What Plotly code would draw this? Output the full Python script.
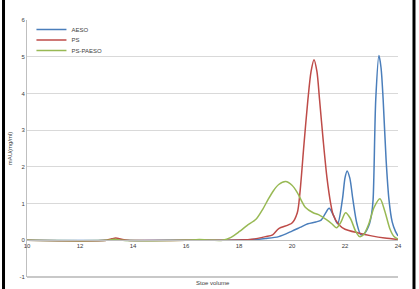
import plotly.graph_objects as go

# AESO (blue)
aeso_x = [10, 13.0, 13.3, 13.6, 16, 17, 18, 18.5, 19, 19.5, 20, 20.3, 20.6, 20.9, 21.1,
          21.25, 21.4, 21.55, 21.72, 21.9, 22.0, 22.08, 22.18, 22.3, 22.45, 22.6, 22.75,
          22.9, 23.0, 23.06, 23.16, 23.28, 23.36, 23.44, 23.55, 23.66, 23.78, 23.9, 24]
aeso_y = [0, 0, 0.02, 0, 0, 0, 0.01, 0.02, 0.05, 0.1, 0.25, 0.35, 0.45, 0.5, 0.55,
          0.72, 0.87, 0.7, 0.45, 1.1, 1.7, 1.89, 1.7, 1.1, 0.45, 0.15, 0.2,
          0.4, 0.7, 1.1, 3.83, 5.03, 4.7, 3.83, 2.2, 1.1, 0.5, 0.25, 0.12]

# PS (red)
ps_x = [10, 13.0, 13.2, 13.35, 13.5, 13.8, 16, 18, 18.5, 19.0, 19.27, 19.5, 20.0, 20.2,
        20.3, 20.45, 20.6, 20.72, 20.83, 20.94, 21.04, 21.18, 21.32, 21.46, 21.55, 21.77,
        22.0, 22.5, 23.0, 23.5, 24]
ps_y = [0, 0, 0.04, 0.06, 0.04, 0, 0, 0.01, 0.03, 0.1, 0.15, 0.32, 0.47, 0.75,
        1.3, 2.6, 3.83, 4.6, 4.92, 4.6, 3.83, 2.7, 1.7, 1.0, 0.7, 0.42,
        0.3, 0.2, 0.12, 0.06, 0.02]

# PS-PAESO (green)
pspaeso_x = [10, 13.0, 13.3, 13.6, 16.0, 16.5, 17.0, 17.38, 17.7, 18.02, 18.3, 18.65, 18.9,
             19.09, 19.3, 19.5, 19.76, 20.0, 20.2, 20.34, 20.5, 20.8, 21.0, 21.3, 21.5,
             21.68, 21.85, 22.02, 22.2, 22.4, 22.55, 22.7, 22.9, 23.1, 23.32, 23.5, 23.7,
             23.85, 24]
pspaeso_y = [0, 0, 0.03, 0, 0, 0.02, 0, 0, 0.08, 0.24, 0.4, 0.58, 0.85,
             1.1, 1.35, 1.52, 1.6, 1.5, 1.3, 1.1, 0.9, 0.75, 0.7, 0.56, 0.45,
             0.34, 0.5, 0.75, 0.6, 0.25, 0.1, 0.15, 0.45, 0.9, 1.13, 0.8, 0.3,
             0.1, 0.03]

series_names = ["AESO", "PS", "PS-PAESO"]
series_colors = ["#4A7EBB", "#BE4B48", "#98B954"]

x_ticks = [10, 12, 14, 16, 18, 20, 22, 24]
y_ticks = [-1, 0, 1, 2, 3, 4, 5, 6]

font = dict(family="Liberation Sans, Arial, sans-serif", size=6, color="#404040")

fig = go.Figure()
legend_ids = ["legend", "legend2", "legend3"]
legend_ys = [0.963, 0.922, 0.881]
for name, xs, ys, col, lg in zip(series_names, [aeso_x, ps_x, pspaeso_x],
                                 [aeso_y, ps_y, pspaeso_y], series_colors, legend_ids):
    fig.add_trace(go.Scatter(x=xs, y=ys, mode="lines", name=name, legend=lg,
                             line=dict(color=col, width=1.5, shape="spline", smoothing=0.8)))

legend_common = dict(x=0.012, xanchor="left", yanchor="middle", bgcolor="rgba(0,0,0,0)",
                     font=dict(size=6, color="#404040"), itemwidth=30, borderwidth=0)

fig.update_layout(
    width=419, height=289,
    margin=dict(l=27, r=21, t=20, b=12),
    paper_bgcolor="white", plot_bgcolor="white",
    font=font,
    showlegend=True,
    legend=dict(y=legend_ys[0], **legend_common),
    legend2=dict(y=legend_ys[1], **legend_common),
    legend3=dict(y=legend_ys[2], **legend_common),
    xaxis=dict(range=[10, 24], tickvals=x_ticks, ticktext=[str(v) for v in x_ticks],
               anchor="free", position=1/7, showgrid=False, zeroline=False,
               showline=True, linecolor="#bfbfbf", linewidth=1, ticks="",
               tickfont=font, automargin=False),
    yaxis=dict(range=[-1, 6], tickvals=y_ticks, ticktext=[str(v) for v in y_ticks],
               showgrid=True, gridcolor="#d9d9d9", gridwidth=1, zeroline=False,
               showline=True, linecolor="#bfbfbf", linewidth=1, ticks="",
               tickfont=font, automargin=False,
               title=dict(text="mAU(mg/ml)", font=font, standoff=6)),
    annotations=[dict(text="Stoe volume", xref="paper", yref="paper", x=0.5, y=0,
                      yshift=-1, showarrow=False, font=font, yanchor="top")],
    shapes=[
        dict(type="line", xref="paper", yref="paper", x0=0, x1=1, y0=0, y1=0,
             line=dict(color="#c8c8c8", width=2)),
        dict(type="line", xref="paper", yref="paper", x0=-0.0633, x1=-0.0633, y0=-0.2, y1=1.2,
             line=dict(color="black", width=3)),
        dict(type="line", xref="paper", yref="paper", x0=1.0431, x1=1.0431, y0=-0.2, y1=1.2,
             line=dict(color="black", width=3)),
    ],
)

fig.write_html("out.html")
